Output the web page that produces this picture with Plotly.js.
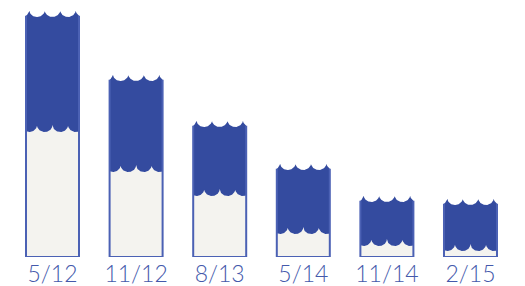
<!DOCTYPE html>
<html>
<head>
<meta charset="utf-8">
<script src="https://cdn.plot.ly/plotly-3.0.1.min.js"></script>
<style>html,body{margin:0;padding:0;background:#fff;}#chart{width:525px;height:286px;}</style>
</head>
<body>
<div id="chart"></div>
<script>
// Data
const categories = ["5/12", "11/12", "8/13", "5/14", "11/14", "2/15"];
const topLevels = [98.8, 73.2, 54.8, 37.6, 24.8, 23.6];   // blue level (wave crest)
const waterLevels = [52.8, 36.8, 27.2, 12.0, 7.2, 5.2];  // white level (wave crest)

const BLUE = "#344b9f";
const EDGE = "#4b61b4";
const PAPER = "#f4f3ef";
const halfW = 0.317;
const hw = halfW / 3.42;   // half wave period
const depth = 2.8;

function wave(c, level, phaseShift) {
  const xs = [], ys = [];
  const n = 160;
  for (let i = 0; i <= n; i++) {
    const u = -halfW + (2 * halfW) * i / n;
    let t = (u - phaseShift) % (2 * hw);
    if (t < 0) t += 2 * hw;
    const r = (t - hw) / hw;
    const y = level - depth * Math.sqrt(Math.max(0, 1 - r * r));
    xs.push(c + u); ys.push(y);
  }
  return {xs, ys};
}

const traces = [];
categories.forEach((cat, i) => {
  const c = i;
  const topW = wave(c, topLevels[i], hw);
  const watW = wave(c, waterLevels[i], 0);
  // white part
  const wx = [c - halfW, c + halfW].concat(watW.xs.slice().reverse());
  const wy = [0, 0].concat(watW.ys.slice().reverse());
  wx.push(c - halfW); wy.push(0);
  traces.push({x: wx, y: wy, type: "scatter", mode: "lines", fill: "toself",
    fillcolor: PAPER, line: {width: 0}, hoverinfo: "skip", showlegend: false});
  // blue part
  const bx = watW.xs.concat(topW.xs.slice().reverse());
  const by = watW.ys.concat(topW.ys.slice().reverse());
  bx.push(watW.xs[0]); by.push(watW.ys[0]);
  traces.push({x: bx, y: by, type: "scatter", mode: "lines", fill: "toself",
    fillcolor: BLUE, line: {width: 0}, hoverinfo: "skip", showlegend: false});
  // outline
  traces.push({x: [c - halfW, c - halfW, c + halfW, c + halfW],
    y: [topW.ys[0], 0, 0, topW.ys[topW.ys.length - 1]],
    type: "scatter", mode: "lines", line: {color: EDGE, width: 2},
    hoverinfo: "skip", showlegend: false});
});

const layout = {
  width: 525, height: 286,
  margin: {l: 0, r: 0, t: 7, b: 29, pad: 0},
  paper_bgcolor: "#ffffff", plot_bgcolor: "#ffffff",
  showlegend: false,
  xaxis: {range: [-0.628, 5.652], tickvals: [0, 1, 2, 3, 4, 5], ticktext: categories,
    showgrid: false, zeroline: false, showline: false, ticks: "", ticklabelstandoff: 1,
    tickfont: {family: "Lato, 'Open Sans', sans-serif", size: 23, color: "#4459ab", weight: 300},
    fixedrange: true},
  yaxis: {range: [0, 100], visible: false, showgrid: false, zeroline: false, fixedrange: true}
};

Plotly.newPlot("chart", traces, layout, {displayModeBar: false, staticPlot: true});
</script>
</body>
</html>
